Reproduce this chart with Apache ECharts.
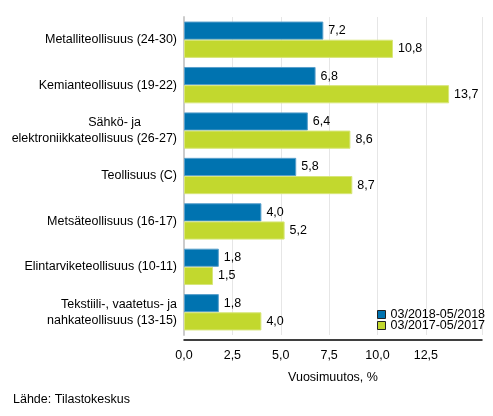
<!DOCTYPE html>
<html>
<head>
<meta charset="utf-8">
<script src="https://cdn.jsdelivr.net/npm/echarts@6/dist/echarts.min.js"></script>
<style>
  html, body { margin: 0; padding: 0; background: #fff; }
  #chart { width: 493px; height: 416px; }
</style>
</head>
<body>
<div id="chart"></div>
<script>
// toimialat ylhäältä alas
const categories = [
  'Metalliteollisuus (24-30)',
  'Kemianteollisuus (19-22)',
  'Sähkö- ja\nelektroniikkateollisuus (26-27)',
  'Teollisuus (C)',
  'Metsäteollisuus (16-17)',
  'Elintarviketeollisuus (10-11)',
  'Tekstiili-, vaatetus- ja\nnahkateollisuus (13-15)'
];
const period2018 = [7.2, 6.8, 6.4, 5.8, 4.0, 1.8, 1.8];
const period2017 = [10.8, 13.7, 8.6, 8.7, 5.2, 1.5, 4.0];
const seriesNames = ['03/2018-05/2018', '03/2017-05/2017'];
const xTicks = [0, 2.5, 5, 7.5, 10, 12.5];

const font = 'Liberation Sans, Arial, sans-serif';
const fs = 12.5;
const fmt = v => v.toFixed(1).replace('.', ',');

let chart = echarts.init(document.getElementById('chart'));

function barSeries(name, data, color, border) {
  return {
    name: name,
    type: 'bar',
    data: data,
    barGap: '0%',
    barCategoryGap: '20%',
    itemStyle: { color: color, borderColor: border, borderWidth: 1 },
    label: {
      show: true,
      position: 'right',
      distance: 5,
      color: '#000',
      fontSize: fs,
      fontFamily: font,
      formatter: p => fmt(p.value)
    }
  };
}

chart.setOption({
  animation: false,
  textStyle: { fontFamily: font },
  grid: { left: 184, right: 11, top: 17, height: 318, containLabel: false },
  legend: {
    orient: 'vertical',
    left: 372,
    top: 303,
    icon: 'rect',
    itemWidth: 8,
    itemHeight: 8,
    itemGap: -2,
    textStyle: { fontSize: fs, color: '#000', fontFamily: font },
    itemStyle: { borderColor: '#222', borderWidth: 1 },
    data: seriesNames
  },
  xAxis: {
    type: 'value',
    min: 0,
    max: 15.4,
    interval: 2.5,
    offset: 5,
    name: 'Vuosimuutos, %',
    nameLocation: 'middle',
    nameGap: 31,
    nameTextStyle: { fontSize: fs, color: '#000', fontFamily: font },
    axisLine: { show: true, lineStyle: { color: '#000', width: 1.5 } },
    axisTick: { show: false },
    axisLabel: {
      color: '#000',
      fontSize: fs,
      margin: 9,
      fontFamily: font,
      formatter: v => (xTicks.indexOf(v) >= 0 ? fmt(v) : '')
    },
    splitLine: {
      show: true,
      lineStyle: { color: ['#e6e6e6', '#e6e6e6', '#e6e6e6', '#e6e6e6', '#e6e6e6', '#e6e6e6', 'rgba(0,0,0,0)'] }
    }
  },
  yAxis: {
    type: 'category',
    inverse: true,
    data: categories,
    axisLine: { show: true, lineStyle: { color: '#cccccc', width: 2 } },
    axisTick: { show: false },
    axisLabel: {
      color: '#000',
      fontSize: fs,
      margin: 7,
      lineHeight: 16,
      fontFamily: font,
      formatter: v => {
        if (v.indexOf('Sähkö') === 0) {
          const parts = v.split('\n');
          return '{a|' + parts[0] + '}\n' + parts[1];
        }
        return v;
      },
      rich: {
        a: { fontSize: fs, color: '#000', fontFamily: font, padding: [0, 36, 0, 0] }
      }
    }
  },
  series: [
    barSeries(seriesNames[0], period2018, '#0073b0', '#5aa0cc'),
    barSeries(seriesNames[1], period2017, '#c2d82e', '#d8e67a')
  ],
  graphic: [{
    type: 'text',
    left: 13,
    top: 393,
    style: { text: 'Lähde: Tilastokeskus', fontSize: fs, fill: '#000', fontFamily: font }
  }]
});
</script>
</body>
</html>
